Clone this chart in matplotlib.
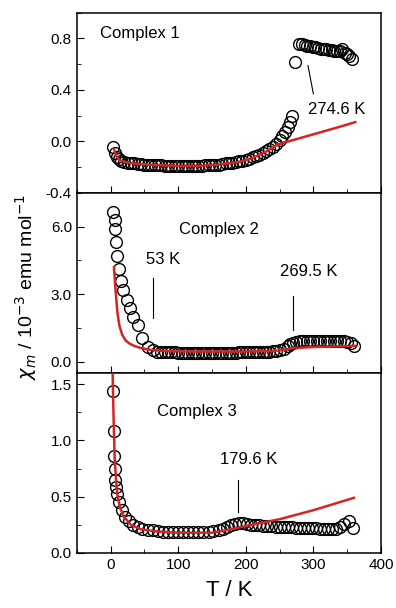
import matplotlib
matplotlib.use('Agg')
import matplotlib.pyplot as plt
from matplotlib.ticker import MultipleLocator

plt.rcParams['font.family'] = ['Liberation Sans', 'DejaVu Sans']

# Complex 1 - measured points
t1 = [4, 6, 9, 12, 16, 20, 25, 30, 35, 40, 45, 50, 55, 60, 65, 70, 75, 80, 85, 90,
      95, 100, 105, 110, 115, 120, 125, 130, 135, 140, 145, 150, 155, 160, 165, 170,
      175, 180, 185, 190, 195, 200, 205, 210, 215, 220, 225, 230, 235, 240, 245, 250,
      254, 258, 262, 265, 268, 273, 279, 283, 287, 291, 295, 299, 303, 307, 311, 315,
      319, 323, 327, 331, 335, 339, 343, 347, 350, 353, 357]
chi1 = [-0.04, -0.09, -0.12, -0.14, -0.15, -0.16, -0.165, -0.17, -0.17, -0.175, -0.175,
        -0.18, -0.18, -0.18, -0.185, -0.185, -0.185, -0.19, -0.19, -0.19, -0.19, -0.19,
        -0.19, -0.19, -0.19, -0.19, -0.19, -0.19, -0.19, -0.185, -0.185, -0.185, -0.18,
        -0.18, -0.175, -0.17, -0.17, -0.165, -0.16, -0.155, -0.15, -0.145, -0.135, -0.125,
        -0.115, -0.105, -0.09, -0.075, -0.06, -0.04, -0.02, 0.01, 0.04, 0.07, 0.11, 0.15,
        0.20, 0.62, 0.76, 0.755, 0.75, 0.745, 0.74, 0.735, 0.73, 0.725, 0.72, 0.72, 0.715,
        0.71, 0.71, 0.705, 0.70, 0.70, 0.72, 0.69, 0.68, 0.66, 0.64]
# Complex 1 - fit
tf1 = [5, 8, 12, 20, 40, 70, 100, 130, 160, 190, 210, 230, 245, 260, 280, 300, 320, 340, 362]
fit1 = [-0.06, -0.11, -0.14, -0.16, -0.175, -0.185, -0.19, -0.19, -0.18, -0.16, -0.13,
        -0.08, -0.03, -0.005, 0.025, 0.055, 0.085, 0.115, 0.15]

# Complex 2
t2 = [4, 6, 7, 8, 10, 12, 15, 19, 24, 29, 33, 40, 46, 55, 62, 68, 75, 80, 85, 90, 95,
      100, 105, 110, 115, 120, 125, 130, 135, 140, 145, 150, 155, 160, 165, 170, 175,
      180, 185, 190, 195, 200, 205, 210, 215, 220, 225, 230, 235, 240, 245, 250, 256,
      262, 266, 270, 275, 280, 285, 290, 295, 300, 305, 310, 315, 320, 325, 330, 335,
      340, 345, 350, 355, 360]
chi2 = [6.65, 6.3, 5.9, 5.3, 4.7, 4.1, 3.6, 3.2, 2.75, 2.4, 2.0, 1.65, 1.07, 0.67, 0.5,
        0.45, 0.43, 0.42, 0.42, 0.41, 0.41, 0.40, 0.40, 0.40, 0.39, 0.39, 0.39, 0.39,
        0.39, 0.39, 0.39, 0.39, 0.39, 0.39, 0.40, 0.40, 0.40, 0.40, 0.40, 0.41, 0.41,
        0.41, 0.42, 0.42, 0.42, 0.43, 0.43, 0.44, 0.45, 0.46, 0.48, 0.52, 0.58, 0.68,
        0.78, 0.85, 0.88, 0.90, 0.90, 0.90, 0.90, 0.90, 0.90, 0.90, 0.90, 0.90, 0.90,
        0.90, 0.90, 0.90, 0.90, 0.88, 0.85, 0.70]
tf2 = [5, 7, 10, 13, 17, 22, 28, 35, 45, 60, 80, 120, 200, 240, 255, 270, 300, 362]
fit2 = [4.2, 3.3, 2.2, 1.6, 1.2, 0.95, 0.8, 0.7, 0.6, 0.52, 0.47, 0.45, 0.45, 0.47, 0.52,
        0.6, 0.65, 0.7]

# Complex 3
t3 = [3, 5, 5.5, 6, 7, 8, 10, 13, 17, 22, 27, 33, 40, 47, 55, 62, 70, 77, 85, 92, 100,
      107, 115, 122, 130, 137, 145, 152, 160, 166, 172, 178, 184, 190, 196, 202, 208,
      214, 220, 226, 232, 238, 244, 250, 256, 262, 268, 274, 280, 286, 292, 298, 304,
      310, 316, 322, 328, 334, 340, 346, 352, 358]
chi3 = [1.44, 1.08, 0.86, 0.75, 0.65, 0.59, 0.52, 0.45, 0.38, 0.32, 0.28, 0.25, 0.23,
        0.215, 0.205, 0.2, 0.195, 0.19, 0.19, 0.19, 0.19, 0.19, 0.19, 0.19, 0.19, 0.19,
        0.19, 0.195, 0.2, 0.21, 0.23, 0.25, 0.26, 0.27, 0.265, 0.26, 0.25, 0.245, 0.245,
        0.24, 0.24, 0.24, 0.235, 0.235, 0.23, 0.23, 0.23, 0.225, 0.225, 0.22, 0.22, 0.22,
        0.22, 0.215, 0.215, 0.21, 0.21, 0.215, 0.23, 0.26, 0.28, 0.22]
tf3 = [3, 4, 5, 6, 8, 10, 14, 20, 30, 45, 70, 100, 150, 170, 185, 200, 250, 300, 360]
fit3 = [1.6, 1.3, 1.05, 0.85, 0.65, 0.52, 0.4, 0.32, 0.25, 0.21, 0.19, 0.18, 0.18, 0.2,
        0.22, 0.24, 0.3, 0.38, 0.49]

labels = ['Complex 1', 'Complex 2', 'Complex 3']

fig, axes = plt.subplots(3, 1, figsize=(3.96, 6.08), dpi=100, sharex=True)
fig.subplots_adjust(left=0.194, right=0.962, top=0.979, bottom=0.0905, hspace=0)

data = [(t1, chi1, tf1, fit1), (t2, chi2, tf2, fit2), (t3, chi3, tf3, fit3)]
for ax, (t, c, tf, f) in zip(axes, data):
    ax.plot(t, c, 'o', ms=8.5, mfc='none', mec='black', mew=1.0, zorder=2)
    ax.plot(tf, f, '-', color='#d42525', lw=1.8, zorder=3)
    ax.set_xlim(-50, 400)
    ax.xaxis.set_major_locator(MultipleLocator(100))
    ax.xaxis.set_minor_locator(MultipleLocator(50))
    ax.tick_params(which='both', direction='in', top=False, right=False, labelsize=11)
    ax.tick_params(which='major', length=5)
    ax.tick_params(which='minor', length=3)
    for s in ax.spines.values():
        s.set_linewidth(1.1)

ax1, ax2, ax3 = axes
ax1.set_ylim(-0.4, 1.0)
ax1.set_yticks([-0.4, 0.0, 0.4, 0.8])
ax1.yaxis.set_minor_locator(MultipleLocator(0.2))
ax1.set_yticklabels(['-0.4', '0.0', '0.4', '0.8'])
ax1.text(-15, 0.84, labels[0], fontsize=12, va='center', ha='left')
ax1.plot([292, 300], [0.59, 0.37], color='black', lw=0.8)
ax1.text(334, 0.25, '274.6 K', fontsize=12, ha='center', va='center')

ax2.set_ylim(-0.5, 7.5)
ax2.set_yticks([0.0, 3.0, 6.0])
ax2.yaxis.set_minor_locator(MultipleLocator(1.5))
ax2.set_yticklabels(['0.0', '3.0', '6.0'])
ax2.text(160, 5.87, labels[1], fontsize=12, va='center', ha='center')
ax2.plot([62, 62], [3.7, 1.95], color='black', lw=0.8)
ax2.text(77, 4.53, '53 K', fontsize=12, ha='center', va='center')
ax2.plot([270, 270], [2.9, 1.42], color='black', lw=0.8)
ax2.text(293, 4.0, '269.5 K', fontsize=12, ha='center', va='center')

ax3.set_ylim(0.0, 1.6)
ax3.set_yticks([0.0, 0.5, 1.0, 1.5])
ax3.yaxis.set_minor_locator(MultipleLocator(0.25))
ax3.set_yticklabels(['0.0', '0.5', '1.0', '1.5'])
ax3.text(128, 1.26, labels[2], fontsize=12, va='center', ha='center')
ax3.plot([189, 189], [0.65, 0.36], color='black', lw=0.8)
ax3.text(204, 0.83, '179.6 K', fontsize=12, ha='center', va='center')
ax3.set_xlabel('T / K', fontsize=16, labelpad=6)

fig.text(0.065, 0.528, r'$\chi_m$ / 10$^{-3}$ emu mol$^{-1}$', rotation=90,
         fontsize=14, ha='center', va='center')

plt.savefig('out.png')
